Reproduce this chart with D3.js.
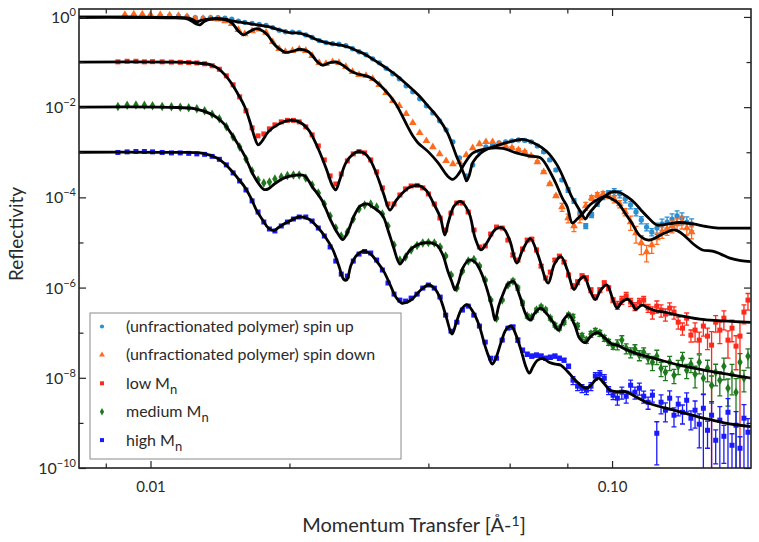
<!DOCTYPE html>
<html>
<head>
<meta charset="utf-8">
<script src="https://cdn.jsdelivr.net/npm/d3@7.9.0/dist/d3.min.js"></script>
<style>
  body { margin: 0; background: #fff; }
  text { font-family: Lato, "Open Sans", "DejaVu Sans", sans-serif; fill: #2a2a2a; }
</style>
</head>
<body>
<svg id="chart" width="759" height="542"></svg>
<script>
// momentum transfer grid for the three fractions (1/Å)
const qFrac = [0.0085,0.0089,0.0093,0.0097,0.0101,0.0106,0.0111,0.0116,0.0121,0.0126,0.0131,0.0136,0.0141,0.0146,0.0151,
  0.0156,0.0161,0.0166,0.0171,0.0176,0.0181,0.0186,0.0192,0.0198,0.0204,0.0210,0.0217,0.0224,0.0231,0.0238,0.0245,0.0252,0.0259,0.0267,0.0275,0.0283,0.0291,0.0300,0.0309,0.0318,0.0327,0.0337,0.0347,0.0357,0.0367,0.0378,0.0389,0.0400,0.0412,0.0424,0.0436,0.0448,0.0461,0.0474,0.0488,0.0502,0.0516,0.0531,0.0546,0.0562,0.0578,0.0595,
  0.0610,0.0625,0.0640,0.0655,0.0670,0.0686,0.0702,0.0718,0.0735,0.0752,0.0769,0.0787,0.0805,0.0823,0.0842,0.0861,0.0880,0.0900,0.0920,0.0941,0.0962,0.0983,0.1005,0.1027,0.1050,0.1073,0.1097,0.1121,0.1146,0.1171,0.1197,0.1223,0.1250,0.1277,0.1305,0.1333,0.1362,0.1391,0.1421,0.1451,0.1482,0.1513,0.1545,0.1577,0.1610,0.1643,0.1677,0.1712,0.1747,0.1783,0.1819,0.1856,0.1893,0.1931,0.1970];

// momentum transfer grid for the unfractionated polymer (1/Å)
const qSpin = [0.0088,0.0092,0.0096,0.0100,0.0105,0.0110,0.0115,0.0120,0.0125,0.0130,0.0135,0.0140,0.0145,0.0150,0.0155,0.0160,0.0166,0.0172,0.0178,0.0184,
  0.0190,0.0196,0.0203,0.0210,0.0217,0.0224,0.0232,0.0240,0.0248,0.0256,0.0265,0.0274,0.0283,0.0293,0.0303,0.0313,0.0324,0.0335,0.0346,0.0358,
  0.0370,0.0383,0.0396,0.0409,0.0423,0.0437,0.0452,0.0467,0.0483,0.0499,0.0516,0.0533,0.0551,0.0569,0.0588,0.0607,0.0627,0.0647,0.0668,0.0689,
  0.0711,0.0733,0.0756,0.0779,0.0803,0.0827,0.0852,0.0877,0.0903,0.0929,0.0956,0.0983,0.1011,0.1039,0.1068,0.1097,0.1127,0.1157,0.1188,0.1219,
  0.1251,0.1283,0.1316,0.1349,0.1383,0.1417,0.1452,0.1487];

// measured reflectivity
const spinUp = [1.04,1.06,1.06,1.06,1.06,1.06,1.04,1.01,0.96,0.94,
  0.96,0.96,0.94,0.89,0.81,0.76,0.72,0.68,0.65,0.58,
  0.51,0.47,0.46,0.45,0.40,0.35,0.30,0.27,0.255,0.248,
  0.23,0.197,0.169,0.145,0.118,0.0963,0.0727,0.055,0.0425,0.0297,
  0.0219,0.0153,0.0107,7.46e-3,4.97e-3,3.14e-3,1.7e-3,7.5e-4,2.99e-4,5.25e-4,
  1.02e-3,1.31e-3,1.46e-3,1.61e-3,1.7e-3,1.79e-3,1.88e-3,1.83e-3,1.7e-3,1.38e-3,
  1.02e-3,6.77e-4,4.06e-4,2.43e-4,1.46e-4,8.35e-5,4.5e-5,2.32e-5,4.07e-5,7.14e-5,
  1.02e-4,1.25e-4,1.32e-4,1.19e-4,9.2e-5,6.79e-5,4.74e-5,3.15e-5,2.2e-5,1.71e-5,
  2.09e-5,2.57e-5,2.84e-5,3.31e-5,3.86e-5,3.49e-5,2.84e-5,2.57e-5];
const spinDown = [1.12,1.15,1.15,1.12,1.12,1.09,1.06,1.01,0.91,0.91,
  0.91,0.89,0.81,0.71,0.52,0.42,0.49,0.53,0.45,0.28,
  0.197,0.169,0.178,0.192,0.178,0.138,0.0963,0.0916,0.101,0.0963,
  0.0786,0.0608,0.052,0.0495,0.0425,0.0313,0.0208,0.0138,0.0107,7.1e-3,
  4.48e-3,2.69e-3,1.79e-3,1.31e-3,9.2e-4,6.44e-4,5.5e-4,6.1e-4,8.7e-4,1.25e-3,
  1.53e-3,1.7e-3,1.7e-3,1.53e-3,1.38e-3,1.25e-3,1.13e-3,1.02e-3,8.3e-4,6.1e-4,
  3.67e-4,1.98e-4,1.07e-4,6.12e-5,3.49e-5,2.32e-5,3.49e-5,6.45e-5,9.7e-5,1.13e-4,
  1.19e-4,1.07e-4,9.2e-5,7.14e-5,4.74e-5,2.84e-5,1.62e-5,9.75e-6,6.16e-6,8.78e-6,
  1.26e-5,1.71e-5,1.99e-5,2.32e-5,2.57e-5,2.84e-5,2.09e-5,1.71e-5];
const lowMn = [0.101,0.104,0.104,0.101,0.102,0.101,0.0997,0.0987,0.0975,0.0955,0.0916,0.0828,0.0692,0.0495,0.0313,
  0.0169,8.3e-3,3.47e-3,2.31e-3,2.55e-3,3.3e-3,4.05e-3,4.72e-3,5.1e-3,5.1e-3,
  4.72e-3,3.66e-3,2.43e-3,1.38e-3,6.77e-4,2.99e-4,1.98e-4,3.3e-4,6.44e-4,9.2e-4,
  1.04e-3,9.68e-4,6.77e-4,3.67e-4,1.62e-4,7.14e-5,7.14e-5,1.13e-4,1.54e-4,1.79e-4,
  1.84e-4,1.62e-4,1.19e-4,7.14e-5,3.49e-5,1.89e-5,4.5e-5,7.5e-5,7.5e-5,4.74e-5,
  1.89e-5,7.94e-6,8.36e-6,1.54e-5,2.2e-5,2.09e-5,1.13e-5,
  5.27e-6,4.08e-6,7.16e-6,1.13e-5,1.19e-5,6.82e-6,3.0e-6,1.63e-6,2.21e-6,4.08e-6,
  5.0e-6,3.68e-6,1.9e-6,1.08e-6,1.32e-6,1.8e-6,1.63e-6,8.83e-7,6.16e-7,8.83e-7,
  1.26e-6,9.75e-7,5.28e-7,4.09e-7,5.28e-7,6.48e-7,4.77e-7,3.88e-7,4.77e-7,5.28e-7,
  3.51e-7,2.86e-7,3.88e-7,3.17e-7,2.58e-7,3.51e-7,2.86e-7,1.71e-7,1.26e-7,2.1e-7,
  8.83e-8,1.14e-7,6.84e-8,1.4e-7,8.4e-8,5.3e-8,1.71e-7,1.14e-7,2.1e-7,6.84e-8,
  1.26e-7,5.03e-8,8.4e-8,2.86e-7,5.28e-7];
const mediumMn = [0.0104,0.011,0.0112,0.011,0.0107,0.0104,0.0102,9.92e-3,9.67e-3,9.18e-3,8.3e-3,6.94e-3,5.5e-3,3.66e-3,2.19e-3,
  1.31e-3,7.12e-4,3.85e-4,2.43e-4,2.09e-4,2.2e-4,2.56e-4,2.84e-4,3.06e-4,3.14e-4,
  3.14e-4,2.7e-4,1.88e-4,1.25e-4,7.14e-5,3.86e-5,2.09e-5,1.39e-5,1.71e-5,3.31e-5,
  5.53e-5,6.79e-5,7.14e-5,6.12e-5,4.28e-5,2.32e-5,8.78e-6,4.08e-6,4.76e-6,6.82e-6,
  8.58e-6,9.75e-6,1.0e-5,9.75e-6,7.94e-6,5.0e-6,1.9e-6,9.75e-7,2.32e-6,3.87e-6,
  4.19e-6,3.0e-6,1.47e-6,5.28e-7,2.1e-7,5.28e-7,1.14e-6,
  1.39e-6,9.75e-7,4.53e-7,2.33e-7,2.21e-7,3.17e-7,3.69e-7,3.17e-7,2.1e-7,1.47e-7,
  1.26e-7,1.71e-7,2.45e-7,2.21e-7,1.4e-7,8.4e-8,6.84e-8,9.3e-8,1.08e-7,9.78e-8,
  7.58e-8,6.18e-8,5.03e-8,5.57e-8,6.84e-8,4.54e-8,3.7e-8,4.32e-8,3.18e-8,3.7e-8,
  2.72e-8,2.22e-8,3.02e-8,1.63e-8,1.33e-8,2.22e-8,1.14e-8,1.81e-8,2.72e-8,1.47e-8,
  2.0e-8,1.2e-8,2.22e-8,9.78e-9,1.63e-8,6.85e-9,1.33e-8,8.84e-9,1.81e-8,5.88e-9,
  1.2e-8,4.79e-9,2.22e-8,9.78e-9,3.02e-8];
const highMn = [9.9e-4,1.02e-3,1.04e-3,1.04e-3,1.02e-3,9.9e-4,9.68e-4,9.68e-4,9.45e-4,9.2e-4,8.98e-4,8.1e-4,6.97e-4,5.25e-4,3.48e-4,
  2.31e-4,1.46e-4,8.35e-5,4.74e-5,2.84e-5,1.99e-5,1.8e-5,2.32e-5,2.84e-5,3.31e-5,
  3.67e-5,3.67e-5,2.99e-5,2.09e-5,1.39e-5,7.94e-6,3.87e-6,1.99e-6,1.8e-6,3.87e-6,
  5.53e-6,6.31e-6,5.84e-6,4.08e-6,2.45e-6,1.26e-6,7.16e-7,5.28e-7,5.02e-7,5.84e-7,
  7.16e-7,9.75e-7,1.14e-6,9.75e-7,6.16e-7,2.45e-7,1.08e-7,1.71e-7,3.17e-7,3.88e-7,
  2.45e-7,1.4e-7,6.18e-8,2.72e-8,2.72e-8,6.84e-8,1.26e-7,
  1.33e-7,6.84e-8,4.1e-8,3.34e-8,3.02e-8,3.18e-8,3.02e-8,2.72e-8,2.86e-8,3.02e-8,
  2.72e-8,2.46e-8,1.81e-8,8.84e-9,6.52e-9,5.88e-9,5.31e-9,6.52e-9,1.09e-8,1.2e-8,
  9.78e-9,5.31e-9,4.11e-9,3.53e-9,4.79e-9,3.9e-9,6.85e-9,4.79e-9,5.88e-9,3.9e-9,
  2.87e-9,4.11e-9,5.89e-10,2.87e-9,1.91e-9,3.53e-9,1.48e-9,2.6e-9,1.72e-9,3.18e-9,
  1.27e-9,1.91e-9,9.34e-10,2.11e-9,6.86e-10,1.48e-9,4.12e-10,1.15e-9,5.05e-10,1.72e-9,
  3.19e-10,8.87e-10,2.74e-10,1.27e-9,6.2e-10];

// relative uncertainties (sigma / R)
const errUp = [0.02,0.02,0.02,0.02,0.02,0.02,0.02,0.02,0.02,0.02,0.02,0.02,0.02,0.02,0.02,0.02,0.02,0.02,0.02,0.02,
  0.02,0.02,0.02,0.02,0.02,0.02,0.02,0.02,0.02,0.02,0.02,0.02,0.02,0.02,0.02,0.02,0.02,0.02,0.02,0.02,
  0.02,0.02,0.02,0.02,0.02,0.02,0.02,0.02,0.02,0.02,0.02,0.02,0.02,0.02,0.02,
  0.06,0.06,0.06,0.06,0.06,0.06,0.06,0.06,0.06,
  0.12,0.12,0.12,0.12,0.12,0.12,0.12,0.12,
  0.18,0.18,0.18,0.18,0.18,0.18,0.18,0.18,
  0.28,0.28,0.28,0.3,0.3,0.3,0.3,0.3];
const errDown = [0.02,0.02,0.02,0.02,0.02,0.02,0.02,0.02,0.02,0.02,0.02,0.02,0.02,0.02,0.02,0.02,0.02,0.02,0.02,0.02,
  0.02,0.02,0.02,0.02,0.02,0.02,0.02,0.02,0.02,0.02,0.02,0.02,0.02,0.02,0.02,0.02,0.02,0.02,0.02,0.02,
  0.02,0.02,0.02,0.02,0.02,0.02,0.02,0.02,0.02,0.02,0.02,0.02,0.02,0.02,0.02,
  0.06,0.06,0.06,0.06,0.06,0.06,0.06,0.06,
  0.2,0.22,0.25,0.22,0.2,
  0.12,0.12,0.12,0.12,
  0.18,0.18,0.18,
  0.35,0.4,0.45,0.4,0.35,
  0.28,0.28,0.28,0.3,0.3,0.3,0.3,0.3];
const errLow = [0.02,0.02,0.02,0.02,0.02,0.02,0.02,0.02,0.02,0.02,0.02,0.02,0.02,0.02,0.02,
  0.03,0.03,0.03,0.03,0.03,0.03,0.03,0.03,0.03,0.03,0.03,0.03,0.03,0.03,0.03,
  0.03,0.03,0.03,0.03,0.03,0.03,0.03,0.03,0.03,0.03,0.03,0.03,0.03,0.03,0.03,
  0.05,0.05,0.05,0.05,0.05,0.05,0.05,0.05,0.05,0.05,0.05,0.05,0.05,0.05,0.05,0.05,0.05,
  0.08,0.08,0.08,0.08,0.08,0.08,0.08,0.08,0.08,0.08,0.08,0.08,0.08,
  0.12,0.12,0.12,0.12,0.12,0.12,0.12,0.12,0.12,0.12,
  0.2,0.2,0.2,0.2,0.2,0.2,0.2,0.2,
  0.3,0.3,0.3,0.3,0.3,0.3,0.3,0.3,0.3,0.3,
  0.45,0.5,0.4,0.5,1.0,0.4,0.5,0.45,0.6,0.5,0.7,1.0,0.45,0.4];
const errMedium = [0.02,0.02,0.02,0.02,0.02,0.02,0.02,0.02,0.02,0.02,0.02,0.02,0.02,0.02,0.02,
  0.03,0.03,0.03,0.03,0.03,0.03,0.03,0.03,0.03,0.03,0.03,0.03,0.03,0.03,0.03,
  0.03,0.03,0.03,0.03,0.03,0.03,0.03,0.03,0.03,0.03,0.03,0.03,0.03,0.03,0.03,
  0.05,0.05,0.05,0.05,0.05,0.05,0.05,0.05,0.05,0.05,0.05,0.05,0.05,0.05,0.05,0.05,0.05,
  0.1,0.1,0.1,0.1,0.1,0.1,0.1,0.1,0.1,0.1,0.1,0.1,0.1,
  0.15,0.15,0.15,0.15,0.15,0.15,0.15,0.15,0.15,0.15,
  0.25,0.25,0.25,0.25,0.25,0.25,0.25,0.25,
  0.35,0.35,0.35,0.35,0.35,0.35,0.35,0.35,0.35,0.35,
  0.5,0.45,0.55,0.5,0.6,0.5,0.55,0.5,0.6,0.65,1.0,0.55,0.5,0.45];
const errHigh = [0.02,0.02,0.02,0.02,0.02,0.02,0.02,0.02,0.02,0.02,0.02,0.02,0.02,0.02,0.02,
  0.03,0.03,0.03,0.03,0.03,0.03,0.03,0.03,0.03,0.03,0.03,0.03,0.03,0.03,0.03,
  0.03,0.03,0.03,0.03,0.03,0.03,0.03,0.03,0.03,0.03,0.03,0.03,0.03,0.03,0.03,
  0.05,0.05,0.05,0.05,0.05,0.05,0.05,0.05,0.05,0.05,0.05,0.05,0.05,0.05,0.05,0.05,0.05,
  0.1,0.1,0.1,0.1,0.1,0.1,0.1,0.1,0.1,0.1,0.1,0.1,0.1,
  0.2,0.2,0.2,0.2,0.2,0.2,0.2,0.2,0.2,0.2,
  0.3,0.3,0.3,0.3,0.3,0.3,0.3,0.3,0.3,
  0.8,
  0.45,0.45,0.45,0.45,0.45,0.45,0.45,0.45,
  0.6,0.7,1.0,0.6,1.0,0.7,1.0,0.75,1.0,0.8,1.0,0.8,1.0,1.0];

// model fits
const fitUpQ = [0.007,0.009,0.011,0.012,0.0123,0.0126,0.0129,0.0135,0.0145,0.015,0.016,0.017,0.018,0.019,0.02,0.021,0.022,0.023,0.024,0.025,
  0.026,0.027,0.028,0.029,0.03,0.032,0.034,0.036,0.038,0.04,0.042,0.044,0.046,0.047,0.048,0.0484,0.049,0.05,0.052,0.054,
  0.056,0.06,0.064,0.068,0.072,0.076,0.08,0.082,0.084,0.086,0.0876,0.089,0.092,0.096,0.1,0.104,0.108,0.112,0.116,0.12,
  0.125,0.13,0.14,0.15,0.16,0.17,0.185,0.2];
const fitUpR = [0.985,0.985,0.975,0.95,0.89,0.78,0.845,0.91,0.89,0.82,0.74,0.67,0.61,0.52,0.45,0.44,0.38,0.31,0.27,0.25,
  0.235,0.21,0.178,0.153,0.124,0.0808,0.052,0.0313,0.0188,0.0104,5.8e-3,2.69e-3,8.3e-4,4.98e-4,2.84e-4,2.31e-4,2.99e-4,6.1e-4,9.68e-4,1.22e-3,
  1.38e-3,1.7e-3,1.93e-3,1.57e-3,1.07e-3,5.25e-4,1.7e-4,9.7e-5,6.45e-5,4.28e-5,3.31e-5,4.28e-5,6.45e-5,1.02e-4,1.32e-4,1.28e-4,1.02e-4,7.5e-5,5.0e-5,3.49e-5,
  2.44e-5,2.5e-5,2.77e-5,2.57e-5,2.26e-5,2.09e-5,2.09e-5,2.09e-5];
const fitDownQ = [0.007,0.009,0.011,0.012,0.0123,0.0126,0.0128,0.0131,0.0135,0.0145,0.015,0.0155,0.0159,0.0163,0.017,0.0175,0.018,0.0185,0.019,0.0196,
  0.0205,0.021,0.022,0.023,0.0236,0.0244,0.0252,0.0262,0.027,0.028,0.029,0.03,0.032,0.034,0.036,0.037,0.038,0.04,0.042,0.044,
  0.0452,0.0465,0.048,0.05,0.054,0.058,0.062,0.066,0.07,0.074,0.076,0.078,0.08,0.082,0.084,0.086,0.09,0.094,0.097,0.1,
  0.103,0.107,0.11,0.115,0.12,0.124,0.13,0.137,0.143,0.15,0.157,0.165,0.172,0.18,0.19,0.2];
const fitDownR = [0.985,0.985,0.96,0.91,0.80,0.69,0.67,0.80,0.89,0.87,0.74,0.49,0.40,0.46,0.55,0.49,0.38,0.255,0.197,0.164,
  0.178,0.192,0.169,0.101,0.085,0.0963,0.101,0.0828,0.0655,0.055,0.0508,0.0447,0.0255,0.0118,3.84e-3,2.31e-3,1.61e-3,1.02e-3,5.8e-4,2.99e-4,
  2.5e-4,3.3e-4,5.8e-4,9.68e-4,1.22e-3,1.22e-3,9.68e-4,8.3e-4,7.5e-4,3.14e-4,1.79e-4,9.7e-5,6.12e-5,2.7e-5,3.31e-5,4.17e-5,7.14e-5,9.45e-5,1.05e-4,9.2e-5,
  7.5e-5,4.28e-5,2.84e-5,1.39e-5,1.13e-5,1.26e-5,1.62e-5,1.89e-5,1.46e-5,9.24e-6,6.82e-6,6.46e-6,5.53e-6,4.51e-6,3.98e-6,3.78e-6];
const fitLowQ = [0.007,0.011,0.0125,0.0135,0.014,0.0145,0.015,0.0155,0.016,0.0165,0.0168,0.0171,0.0174,0.018,0.019,0.02,0.021,0.022,0.023,0.024,
  0.0248,0.0252,0.0257,0.0265,0.0275,0.0283,0.0292,0.03,0.031,0.032,0.033,0.034,0.035,0.0365,0.038,0.0395,0.041,0.0425,0.0434,0.0442,
  0.0455,0.047,0.049,0.0505,0.052,0.0535,0.056,0.058,0.06,0.0622,0.064,0.0665,0.069,0.0727,0.075,0.0775,0.08,0.0827,0.085,0.087,
  0.0895,0.092,0.0945,0.0975,0.1,0.1025,0.105,0.108,0.111,0.1125,0.116,0.12,0.125,0.13,0.14,0.155,0.17,0.185,0.2];
const fitLowR = [0.1,0.0997,0.096,0.0869,0.0727,0.052,0.0329,0.0188,0.0102,4.05e-3,2.19e-3,1.46e-3,1.7e-3,2.83e-3,4.26e-3,5.1e-3,4.72e-3,3.14e-3,1.31e-3,4.49e-4,
  1.79e-4,1.46e-4,2.43e-4,5.8e-4,9.2e-4,1.04e-3,9.2e-4,6.44e-4,2.99e-4,1.19e-4,5.25e-5,8.35e-5,1.19e-4,1.7e-4,1.84e-4,1.46e-4,7.5e-5,3.49e-5,1.46e-5,2.84e-5,
  6.45e-5,8.13e-5,4.5e-5,1.26e-5,6.82e-6,9.75e-6,1.99e-5,2.09e-5,1.13e-5,3.5e-6,6.82e-6,1.22e-5,5.53e-6,1.26e-6,3.32e-6,4.88e-6,2.45e-6,9.05e-7,1.47e-6,1.76e-6,
  8.83e-7,5.42e-7,8.83e-7,1.14e-6,6.16e-7,3.51e-7,4.77e-7,5.55e-7,4.09e-7,3.25e-7,4.09e-7,3.51e-7,3.01e-7,2.86e-7,2.39e-7,2.0e-7,1.85e-7,1.76e-7,1.69e-7];
const fitMediumQ = [0.007,0.011,0.0125,0.0135,0.014,0.0145,0.015,0.0155,0.016,0.0165,0.017,0.0176,0.018,0.0185,0.0195,0.0205,0.0215,0.0225,0.0235,0.0245,
  0.0255,0.0261,0.0268,0.0276,0.0285,0.0295,0.0305,0.0318,0.0328,0.0336,0.0347,0.0354,0.0365,0.0378,0.0392,0.0405,0.0418,0.043,0.044,0.045,
  0.0457,0.0465,0.0475,0.049,0.0505,0.052,0.0535,0.055,0.0558,0.0568,0.058,0.0595,0.0612,0.063,0.065,0.0665,0.068,0.07,0.072,0.0745,
  0.0765,0.0785,0.0805,0.083,0.085,0.0875,0.09,0.093,0.0965,0.1,0.1025,0.108,0.115,0.125,0.14,0.16,0.18,0.2];
const fitMediumR = [0.01,9.92e-3,9.18e-3,7.1e-3,5.63e-3,4.05e-3,2.49e-3,1.46e-3,8.3e-4,4.06e-4,2.31e-4,1.5e-4,1.54e-4,1.93e-4,2.7e-4,3.06e-4,3.06e-4,1.62e-4,8.75e-5,3.31e-5,
  1.54e-5,1.16e-5,1.8e-5,3.86e-5,6.45e-5,7.14e-5,5.84e-5,4.07e-5,1.71e-5,7.94e-6,3.32e-6,4.3e-6,6.82e-6,8.78e-6,9.75e-6,9.75e-6,8.58e-6,5.27e-6,2.45e-6,1.32e-6,
  8.83e-7,1.32e-6,2.71e-6,4.08e-6,3.68e-6,2.21e-6,9.75e-7,3.51e-7,1.9e-7,3.88e-7,7.03e-7,1.2e-6,1.36e-6,6.82e-7,2.58e-7,1.9e-7,2.72e-7,3.51e-7,2.72e-7,1.71e-7,
  1.14e-7,1.9e-7,2.52e-7,1.47e-7,7.58e-8,6.02e-8,8.4e-8,1.0e-7,7.58e-8,5.57e-8,5.3e-8,4.1e-8,3.26e-8,2.59e-8,1.9e-8,1.44e-8,1.17e-8,9.78e-9];
const fitHighQ = [0.007,0.011,0.013,0.014,0.0145,0.015,0.0155,0.016,0.0165,0.017,0.0175,0.018,0.0185,0.019,0.02,0.021,0.022,0.023,0.024,0.0248,
  0.0256,0.0262,0.0266,0.0272,0.028,0.029,0.03,0.031,0.032,0.033,0.034,0.035,0.036,0.037,0.0385,0.04,0.0412,0.0425,0.0438,0.045,
  0.046,0.0472,0.0485,0.05,0.0515,0.053,0.054,0.055,0.056,0.0575,0.059,0.0605,0.062,0.0635,0.065,0.0662,0.0675,0.069,0.071,0.073,
  0.0755,0.0775,0.08,0.0825,0.085,0.0878,0.0895,0.092,0.0935,0.096,0.099,0.103,0.107,0.112,0.118,0.125,0.135,0.145,0.155,0.165,
  0.175,0.185,0.2];
const fitHighR = [1e-3,9.92e-4,9.45e-4,7.3e-4,5.5e-4,3.85e-4,2.56e-4,1.7e-4,9.7e-5,5.0e-5,3.15e-5,2.09e-5,1.84e-5,2.2e-5,2.99e-5,3.67e-5,3.31e-5,2.2e-5,1.26e-5,7.16e-6,
  3.0e-6,1.54e-6,1.47e-6,3.16e-6,5.27e-6,6.46e-6,5.53e-6,3.68e-6,2.32e-6,1.2e-6,6.16e-7,4.53e-7,4.77e-7,5.7e-7,8.83e-7,1.14e-6,9.75e-7,5.55e-7,2.1e-7,9.3e-8,
  1.71e-7,3.33e-7,4.2e-7,2.86e-7,1.47e-7,5.3e-8,3.02e-8,2.0e-8,2.72e-8,6.18e-8,1.2e-7,1.4e-7,8.6e-8,4.1e-8,1.81e-8,1.27e-8,1.81e-8,2.46e-8,2.65e-8,2.22e-8,
  2.0e-8,1.9e-8,1.4e-8,9.78e-9,7.2e-9,5.88e-9,6.52e-9,8.84e-9,9.78e-9,7.57e-9,5.31e-9,4.92e-9,4.92e-9,3.9e-9,2.95e-9,2.4e-9,1.96e-9,1.6e-9,1.33e-9,1.15e-9,
  1.0e-9,9.1e-10,8.3e-10];

// axis ticks
const xMajorTicks = [0.01, 0.1];
const xMinorTicks = [0.008, 0.02, 0.04, 0.06, 0.08];
const yMajorTicks = [1, 1e-2, 1e-4, 1e-6, 1e-8, 1e-10];
const yMinorTicks = [1e-1, 1e-3, 1e-5, 1e-7, 1e-9];

const svg = d3.select("#chart");
const plotL = 79, plotR = 751, plotT = 9, plotB = 468;

const x = d3.scaleLog().domain([0.007, 0.2]).range([plotL, plotR]);
const y = d3.scaleLog().domain([1e-10, 1.5]).range([plotB, plotT]);

svg.append("rect").attr("width", 759).attr("height", 542).attr("fill", "#fff");
svg.append("defs").append("clipPath").attr("id", "plotArea")
  .append("rect").attr("x", plotL).attr("y", plotT).attr("width", plotR - plotL).attr("height", plotB - plotT);

const series = [
  { label: "(unfractionated polymer) spin up", q: qSpin, r: spinUp, err: errUp, color: "#2b8fd1", symbol: d3.symbolCircle, size: 22, legendSize: 14 },
  { label: "(unfractionated polymer) spin down", q: qSpin, r: spinDown, err: errDown, color: "#ff6a1c", symbol: d3.symbolTriangle, size: 26, legendSize: 15 },
  { label: "low M", q: qFrac, r: lowMn, err: errLow, color: "#ff2a1c", symbol: d3.symbolSquare, size: 25, legendSize: 16 },
  { label: "medium M", q: qFrac, r: mediumMn, err: errMedium, color: "#1f7a1f", symbol: d3.symbolDiamond, size: 26, legendSize: 16 },
  { label: "high M", q: qFrac, r: highMn, err: errHigh, color: "#1a1aff", symbol: d3.symbolSquare, size: 25, legendSize: 16 }
];
const fits = [
  [fitUpQ, fitUpR], [fitDownQ, fitDownR], [fitLowQ, fitLowR], [fitMediumQ, fitMediumR], [fitHighQ, fitHighR]
];

const plot = svg.append("g").attr("clip-path", "url(#plotArea)");

// data points with error bars
series.forEach(s => {
  const pts = s.q.map((q, i) => ({ q: q, r: s.r[i], e: s.err[i] }));
  const g = plot.append("g");
  g.selectAll("path.err").data(pts).join("path").attr("class", "err")
    .attr("d", d => {
      const px = x(d.q);
      const y1 = y(d.r * (1 + d.e));
      const lo = d.r * (1 - d.e);
      const y0 = lo > 1e-12 ? y(lo) : plotB + 10;
      let p = `M${px},${y0}V${y1}`;
      if (d.e >= 0.05) p += `M${px - 2.5},${y1}H${px + 2.5}M${px - 2.5},${y0}H${px + 2.5}`;
      return p;
    })
    .attr("stroke", s.color).attr("stroke-width", 1.3).attr("fill", "none");
  g.selectAll("path.pt").data(pts).join("path").attr("class", "pt")
    .attr("transform", d => `translate(${x(d.q)},${y(d.r)})`)
    .attr("d", d3.symbol().type(s.symbol).size(s.size))
    .attr("fill", s.color);
});

// fitted curves
const line = d3.line().x(d => x(d[0])).y(d => y(d[1])).curve(d3.curveCatmullRom.alpha(0.5));
fits.forEach(([qs, rs]) => {
  plot.append("path").datum(d3.zip(qs, rs)).attr("d", line)
    .attr("fill", "none").attr("stroke", "#000").attr("stroke-width", 2.8).attr("stroke-linejoin", "round");
});

// axes with inward ticks
function styleAxis(g) {
  g.select(".domain").remove();
  g.selectAll(".tick line").attr("stroke", "#222").attr("stroke-width", 1.2);
}
svg.append("g").attr("transform", `translate(0,${plotB})`)
  .call(d3.axisBottom(x).tickValues(xMinorTicks).tickSize(-4.5).tickFormat("")).call(styleAxis);
svg.append("g").attr("transform", `translate(0,${plotB})`)
  .call(d3.axisBottom(x).tickValues(xMajorTicks).tickSize(-7).tickPadding(13).tickFormat(d => d === 0.01 ? "0.01" : "0.10"))
  .call(styleAxis)
  .call(g => g.selectAll("text").attr("font-size", 15));
svg.append("g").attr("transform", `translate(0,${plotT})`)
  .call(d3.axisTop(x).tickValues(xMinorTicks).tickSize(-4.5).tickFormat("")).call(styleAxis);
svg.append("g").attr("transform", `translate(0,${plotT})`)
  .call(d3.axisTop(x).tickValues(xMajorTicks).tickSize(-7).tickFormat("")).call(styleAxis);
svg.append("g").attr("transform", `translate(${plotL},0)`)
  .call(d3.axisLeft(y).tickValues(yMinorTicks).tickSize(-4.5).tickFormat("")).call(styleAxis);
svg.append("g").attr("transform", `translate(${plotL},0)`)
  .call(d3.axisLeft(y).tickValues(yMajorTicks).tickSize(-7).tickFormat("")).call(styleAxis);
svg.append("g").attr("transform", `translate(${plotR},0)`)
  .call(d3.axisRight(y).tickValues(yMinorTicks).tickSize(-4.5).tickFormat("")).call(styleAxis);
svg.append("g").attr("transform", `translate(${plotR},0)`)
  .call(d3.axisRight(y).tickValues(yMajorTicks).tickSize(-7).tickFormat("")).call(styleAxis);

// y tick labels as powers of ten
yMajorTicks.forEach(v => {
  const e = Math.round(Math.log10(v));
  const t = svg.append("text").attr("x", 76).attr("y", y(v) + 6).attr("text-anchor", "end").attr("font-size", 16);
  t.append("tspan").text("10");
  t.append("tspan").attr("font-size", 11).attr("dy", -7).text(e === 0 ? "0" : "\u2212" + (-e));
});

// frame
svg.append("rect").attr("x", plotL).attr("y", plotT).attr("width", plotR - plotL).attr("height", plotB - plotT)
  .attr("fill", "none").attr("stroke", "#222").attr("stroke-width", 1.6);

// axis titles
const xt = svg.append("text").attr("x", 414).attr("y", 532).attr("text-anchor", "middle").attr("font-size", 20);
xt.append("tspan").text("Momentum Transfer [\u00C5-");
xt.append("tspan").attr("font-size", 14).attr("dy", -6).text("1");
xt.append("tspan").attr("dy", 6).text("]");
svg.append("text").attr("transform", "translate(23,234) rotate(-90)").attr("text-anchor", "middle")
  .attr("font-size", 19).text("Reflectivity");

// legend
const lg = svg.append("g");
lg.append("rect").attr("x", 90).attr("y", 313).attr("width", 311).attr("height", 146)
  .attr("fill", "#fff").attr("stroke", "#8a8a8a").attr("stroke-width", 1);
series.forEach((s, i) => {
  const cy = 326.5 + i * 28.4;
  lg.append("path").attr("transform", `translate(102,${cy})`)
    .attr("d", d3.symbol().type(s.symbol).size(s.legendSize)).attr("fill", s.color);
  const t = lg.append("text").attr("x", 126).attr("y", cy + 5.5).attr("font-size", 16).text(s.label);
  if (i >= 2) t.append("tspan").attr("font-size", 13).attr("dy", 5).text("n");
});
</script>
</body>
</html>
